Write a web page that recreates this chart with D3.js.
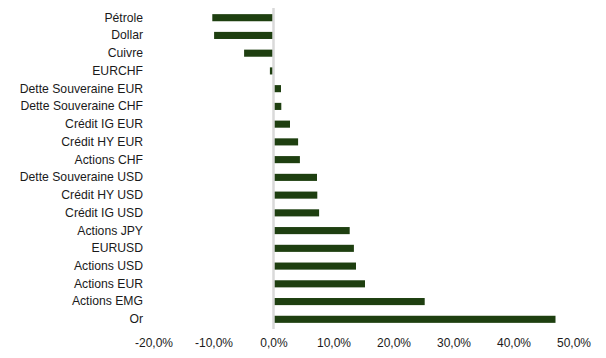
<!DOCTYPE html>
<html>
<head>
<meta charset="utf-8">
<script src="https://cdn.jsdelivr.net/npm/d3@7"></script>
<style>
  html, body { margin: 0; padding: 0; background: #ffffff; }
  svg { display: block; }
  text { font-family: "Liberation Sans", Arial, sans-serif; }
</style>
</head>
<body>
<svg id="chart" width="606" height="358"></svg>
<script>
const categories = ["Pétrole", "Dollar", "Cuivre", "EURCHF", "Dette Souveraine EUR", "Dette Souveraine CHF",
  "Crédit IG EUR", "Crédit HY EUR", "Actions CHF", "Dette Souveraine USD", "Crédit HY USD", "Crédit IG USD",
  "Actions JPY", "EURUSD", "Actions USD", "Actions EUR", "Actions EMG", "Or"];
const values = [-10.2, -9.9, -4.9, -0.6, 1.25, 1.3, 2.75, 4.1, 4.4, 7.25, 7.3, 7.6, 12.7, 13.4, 13.75, 15.25, 25.2, 47.0];
const tickValues = [-20, -10, 0, 10, 20, 30, 40, 50];

const svg = d3.select("#chart");
const x = d3.scaleLinear().domain([-20, 50]).range([153.5, 573.5]);
const y = d3.scaleBand().domain(categories).range([3.5, 333.5]).paddingInner(0.6).paddingOuter(0.6);

const fr = d3.formatLocale({decimal: ",", thousands: " ", grouping: [3], currency: ["", "€"], minus: "-"});
const fmt = fr.format(".1%");

// bars
svg.append("g").selectAll("rect")
  .data(values)
  .join("rect")
  .attr("x", (d) => Math.min(x(0), x(d)))
  .attr("width", (d) => Math.abs(x(d) - x(0)))
  .attr("y", (d, i) => y(categories[i]))
  .attr("height", y.bandwidth())
  .attr("fill", "#1e3f10");

// zero line
svg.append("line")
  .attr("x1", x(0)).attr("x2", x(0))
  .attr("y1", 8).attr("y2", 329)
  .attr("stroke", "#d9d9d9").attr("stroke-width", 2.5);

// category labels
const yAxis = svg.append("g")
  .attr("transform", "translate(146,0)")
  .call(d3.axisLeft(y).tickSize(0).tickPadding(3));
yAxis.select(".domain").remove();
yAxis.selectAll("text")
  .attr("font-size", 12.2)
  .attr("font-family", "Liberation Sans, Arial, sans-serif")
  .attr("fill", "#1a1a1a");

// x tick labels
const xAxis = svg.append("g")
  .attr("transform", "translate(0,334)")
  .call(d3.axisBottom(x).tickValues(tickValues).tickSize(0).tickPadding(4).tickFormat((d) => fmt(d / 100)));
xAxis.select(".domain").remove();
xAxis.selectAll("text")
  .attr("font-size", 12)
  .attr("font-family", "Liberation Sans, Arial, sans-serif")
  .attr("fill", "#1a1a1a");
</script>
</body>
</html>
